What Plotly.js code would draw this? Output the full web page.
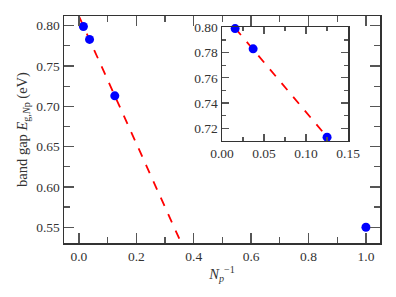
<!DOCTYPE html>
<html><head><meta charset="utf-8">
<script src="https://cdn.plot.ly/plotly-3.0.1.min.js"></script>
<style>body{margin:0;padding:0;background:#fff}#c{width:396px;height:297px}</style>
</head><body><div id="c"></div>
<script>
// Data: inverse number of periods and band gap (eV)
const invNp = [1/64, 1/27, 1/8, 1];
const gap   = [0.799, 0.783, 0.713, 0.550];
// Fit uses the first three points (large-Np limit)
const fitX = invNp.slice(0, 3);
const fitY = gap.slice(0, 3);

// least-squares linear fit
const n = fitX.length;
const mx = fitX.reduce((a,b)=>a+b,0)/n, my = fitY.reduce((a,b)=>a+b,0)/n;
let sxy=0, sxx=0;
for (let i=0;i<n;i++){ sxy+=(fitX[i]-mx)*(fitY[i]-my); sxx+=(fitX[i]-mx)**2; }
const slope = sxy/sxx, icpt = my - slope*mx;
const lineMainX = [-0.05, 0.45];
const lineMainY = lineMainX.map(x=>icpt+slope*x);
const lineInsX = [fitX[0], fitX[n-1]];
const lineInsY = lineInsX.map(x=>icpt+slope*x);

const font = {family:'Liberation Serif, serif', size:13.5, color:'#333'};
const tfont = {family:'Liberation Serif, serif', size:14.5, color:'#333'};
const axBase = {
  showgrid:false, zeroline:false, showline:true, linecolor:'#333', linewidth:1.5,
  mirror:'allticks', ticks:'inside', tickcolor:'#555', tickwidth:1.3,
  tickfont:font
};

const traces = [
  {x:lineMainX, y:lineMainY, mode:'lines', line:{color:'#ff0000', dash:'dash', width:1.8}, xaxis:'x', yaxis:'y', hoverinfo:'skip'},
  {x:invNp, y:gap, mode:'markers', marker:{color:'#0000ff', size:9}, xaxis:'x', yaxis:'y'},
  {x:lineInsX, y:lineInsY, mode:'lines', line:{color:'#ff0000', dash:'dash', width:1.8}, xaxis:'x2', yaxis:'y2', hoverinfo:'skip'},
  {x:invNp.slice(0,3), y:gap.slice(0,3), mode:'markers', marker:{color:'#0000ff', size:9}, xaxis:'x2', yaxis:'y2', cliponaxis:false}
];

const layout = {
  width:396, height:297, showlegend:false,
  paper_bgcolor:'#fff', plot_bgcolor:'rgba(0,0,0,0)',
  margin:{l:64, r:16, t:16, b:54},
  font:font,
  xaxis: Object.assign({}, axBase, {
    domain:[0,1], range:[-0.052,1.049], dtick:0.2, tick0:0, ticklen:10, tickformat:'.1f',
    minor:{dtick:0.1, ticklen:6, ticks:'inside', tickcolor:'#555', tickwidth:1.3},
    title:{text:'<i>N</i><sub><i>p</i></sub><sup>−1</sup>', font:tfont, standoff:6}
  }),
  yaxis: Object.assign({}, axBase, {
    domain:[0,1], range:[0.5305,0.812], dtick:0.05, tick0:0, ticklen:10, tickformat:'.2f',
    minor:{dtick:0.025, ticklen:6, ticks:'inside', tickcolor:'#555', tickwidth:1.3},
    title:{text:'band gap <i>E</i><sub>g,<i>N</i>p</sub> (eV)', font:tfont, standoff:5}
  }),
  xaxis2: Object.assign({}, axBase, {
    anchor:'y2', domain:[0.5,0.899], range:[0,0.15], dtick:0.05, tick0:0, ticklen:7, tickformat:'.2f',
    minor:{dtick:0.025, ticklen:4, ticks:'inside', tickcolor:'#555', tickwidth:1.3}
  }),
  yaxis2: Object.assign({}, axBase, {
    anchor:'x2', domain:[0.4507,0.950], range:[0.7102,0.80], dtick:0.02, tick0:0, ticklen:7, tickformat:'.2f',
    minor:{dtick:0.01, ticklen:4, ticks:'inside', tickcolor:'#555', tickwidth:1.3}
  })
};

Plotly.newPlot('c', traces, layout, {displayModeBar:false, staticPlot:true});
</script></body></html>
